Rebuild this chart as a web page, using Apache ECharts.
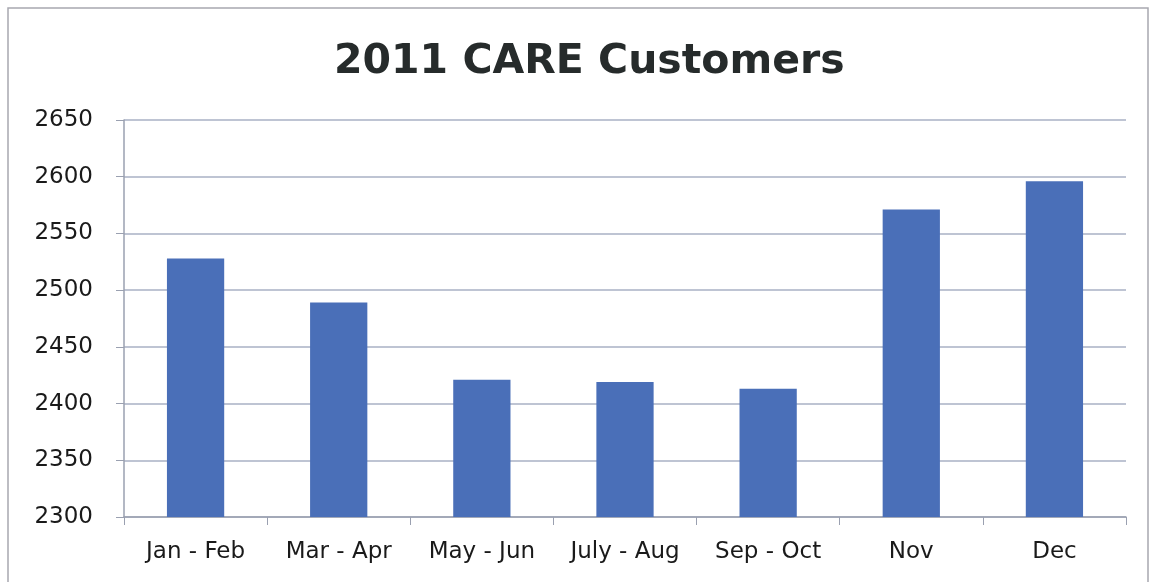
<!DOCTYPE html>
<html>
<head>
<meta charset="utf-8">
<script src="https://cdn.jsdelivr.net/npm/echarts@6/dist/echarts.min.js"></script>
<style>
html,body{margin:0;padding:0;background:#fff;}
#c{width:1150px;height:582px;}
</style>
</head>
<body>
<div id="c"></div>
<script>
const titleText = "2011 CARE Customers";
const categories = ["Jan - Feb", "Mar - Apr", "May - Jun", "July - Aug", "Sep - Oct", "Nov", "Dec"];
const customers = [2528, 2489, 2421, 2419, 2413, 2571, 2596];
const yMin = 2300, yMax = 2650, yStep = 50;

const chart = echarts.init(document.getElementById('c'));
chart.setOption({
  animation: false,
  backgroundColor: '#ffffff',
  graphic: [{
    type: 'rect',
    shape: {x: 8, y: 8, width: 1140, height: 580},
    style: {fill: 'none', stroke: '#a8a8b0', lineWidth: 1.5}
  }],
  title: {
    text: titleText,
    left: 329,
    top: 37,
    textStyle: {fontFamily: 'DejaVu Sans', fontWeight: 'bold', fontSize: 41, color: '#262b2b'}
  },
  grid: {left: 124, right: 24, top: 120, bottom: 65},
  xAxis: {
    type: 'category',
    data: categories,
    axisLine: {show: true, lineStyle: {color: '#9aa0b0', width: 1.5}},
    axisTick: {show: true, length: 8, lineStyle: {color: '#9aa0b0'}},
    axisLabel: {fontFamily: 'DejaVu Sans', fontSize: 23, color: '#1a1a1a', margin: 24}
  },
  yAxis: {
    type: 'value',
    min: yMin, max: yMax, interval: yStep,
    axisLine: {show: true, lineStyle: {color: '#9aa0b0', width: 1.5}},
    axisTick: {show: true, length: 8, lineStyle: {color: '#9aa0b0'}},
    axisLabel: {fontFamily: 'DejaVu Sans', fontSize: 23, color: '#1a1a1a', margin: 31,
      formatter: function (v) { return String(v); }},
    splitLine: {show: true, lineStyle: {color: '#a9b0c4', width: 1.5}}
  },
  series: [{
    type: 'bar',
    data: customers,
    barWidth: '40%',
    itemStyle: {color: '#4a6fb8'}
  }]
});
</script>
</body>
</html>
